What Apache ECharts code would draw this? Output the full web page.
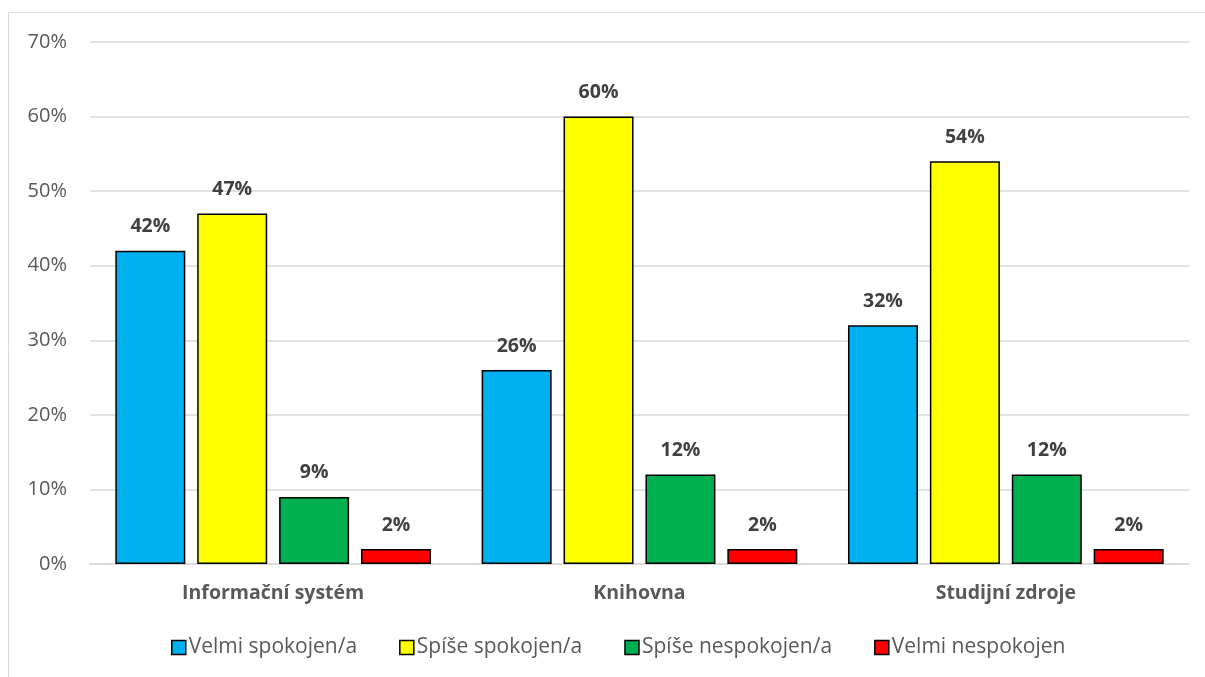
<!DOCTYPE html>
<html><head><meta charset="utf-8">
<script src="https://cdn.jsdelivr.net/npm/echarts@6/dist/echarts.min.js"></script>
<style>html,body{margin:0;padding:0;background:#fff}#c{width:1205px;height:677px}</style>
</head><body><div id="c"></div>
<script>
const categories = ['Informační systém', 'Knihovna', 'Studijní zdroje'];
const seriesNames = ['Velmi spokojen/a', 'Spíše spokojen/a', 'Spíše nespokojen/a', 'Velmi nespokojen'];
const velmiSpokojen = [42, 26, 32];
const spiseSpokojen = [47, 60, 54];
const spiseNespokojen = [9, 12, 12];
const velmiNespokojen = [2, 2, 2];
const colors = ['#00B0F0', '#FFFF00', '#00B050', '#FF0000'];
const values = [velmiSpokojen, spiseSpokojen, spiseNespokojen, velmiNespokojen];
const font = '"Open Sans", "Noto Sans", sans-serif';

const chart = echarts.init(document.getElementById('c'), null, {renderer: 'canvas'});
chart.setOption({
  animation: false,
  textStyle: {fontFamily: font},
  graphic: [{type: 'rect', shape: {x: 8.5, y: 12.5, width: 1400, height: 900}, style: {fill: 'none', stroke: '#d9d9d9', lineWidth: 1}, z: -1}],
  grid: {left: 90, right: 16, top: 42, bottom: 113, containLabel: false},
  legend: {
    bottom: 14, left: 166, itemWidth: 14, itemHeight: 14, itemGap: 42,
    icon: 'rect',
    textStyle: {fontSize: 21, color: '#595959', fontFamily: font, padding: [0, 0, 0, -2]},
    data: seriesNames.map((n, i) => ({name: n, itemStyle: {color: colors[i], borderColor: '#000', borderWidth: 1.5}}))
  },
  xAxis: {
    type: 'category', data: categories,
    axisLine: {lineStyle: {color: '#d9d9d9', width: 1.5}},
    axisTick: {show: false},
    axisLabel: {fontSize: 19.5, fontWeight: 'bold', color: '#595959', margin: 19, fontFamily: font}
  },
  yAxis: {
    type: 'value', min: 0, max: 70, interval: 10,
    axisLabel: {formatter: '{value}%', fontSize: 20, color: '#595959', margin: 23, fontFamily: font},
    splitLine: {lineStyle: {color: '#d9d9d9', width: 1.5}},
    axisLine: {show: false}, axisTick: {show: false}
  },
  series: seriesNames.map((n, i) => ({
    name: n, type: 'bar', data: values[i],
    barWidth: 70, barGap: '17%',
    itemStyle: {color: colors[i], borderColor: '#000', borderWidth: 1.5},
    label: {show: true, position: 'top', distance: 14, formatter: '{c}%', fontSize: 19.5, fontWeight: 'bold', color: '#404040', fontFamily: font}
  }))
});
</script></body></html>
